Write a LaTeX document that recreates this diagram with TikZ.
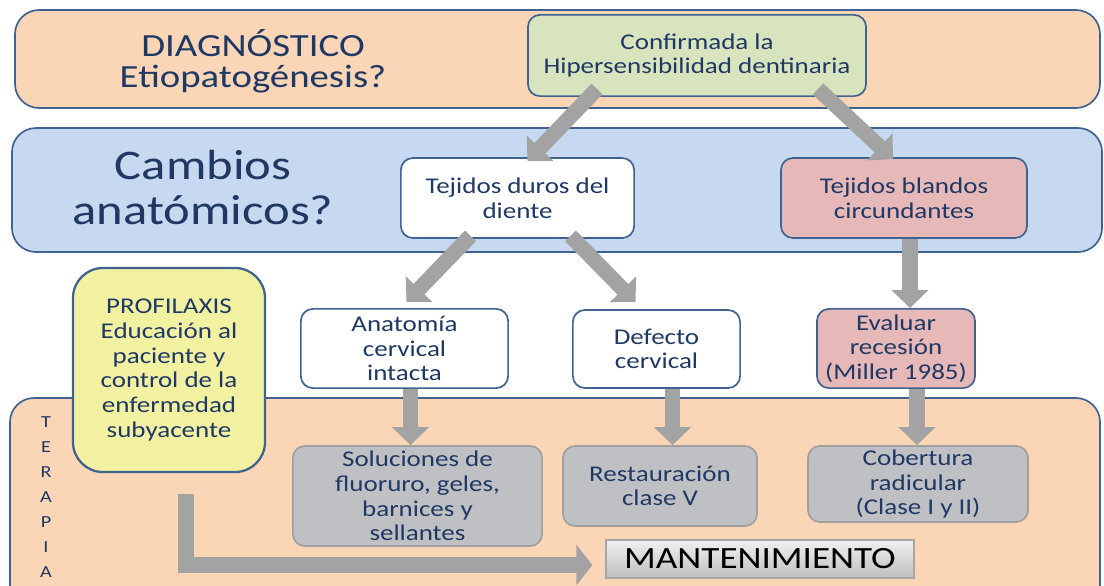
\documentclass[tikz,border=0pt]{standalone}
\usepackage{fontspec}
\setmainfont{Carlito}[FakeStretch=1.2]
\usetikzlibrary{arrows.meta,calc}
\definecolor{peach}{HTML}{FAD5B6}
\definecolor{bandblue}{HTML}{C6D9F0}
\definecolor{edge}{HTML}{3F6290}
\definecolor{navy}{HTML}{1F3864}
\definecolor{okgreen}{HTML}{D7E4BD}
\definecolor{rosy}{HTML}{E6B9B8}
\definecolor{lemon}{HTML}{F2F1A2}
\definecolor{boxgray}{HTML}{BFC0C3}
\definecolor{arrowgray}{HTML}{A3A3A3}
\tikzstyle{band}=[draw=edge, line width=1.2pt, rounded corners=0.6cm]
\tikzstyle{box}=[draw=edge, line width=1.2pt, rounded corners=0.3cm, align=center, text=navy, inner sep=1pt, font=\fontsize{16}{17.5}\selectfont]
\tikzstyle{graybox}=[box, draw=gray!75, fill=boxgray]
\tikzstyle{title}=[align=center, text=navy, inner sep=1pt]
\tikzstyle{bigArrow}=[draw=arrowgray, line width=0.38cm, -{Triangle[length=0.45cm,width=0.9cm]}]

\begin{document}
\begin{tikzpicture}[x=0.025cm, y=-0.025cm]
    \useasboundingbox (0,0) rectangle (1104,585);
    \clip (0,0) rectangle (1104,585);

    % bands
    \draw[band, fill=peach] (15,10) rectangle (1100,108);
    \draw[band, fill=bandblue] (12,128) rectangle (1102,252);
    \draw[band, fill=peach] (10,398) rectangle (1100,640);

    % titles
    \node[title, font=\fontsize{23}{22}\selectfont] (diagtitle) at (253,61) {DIAGNÓSTICO\\Etiopatogénesis?};
    \node[title, font=\fontsize{30}{32}\selectfont] (cambios) at (203,188) {Cambios\\anatómicos?};
    \node[title, font=\fontsize{12}{17.7}\selectfont] (terapia) at (46,497) {T\\E\\R\\A\\P\\I\\A};

    % nodes
    \node[box, fill=okgreen, minimum width=8.45cm, minimum height=2.03cm] (conf) at (697,55.5) {Confirmada la\\Hipersensibilidad dentinaria};
    \node[box, fill=white, minimum width=5.83cm, minimum height=2cm] (duros) at (517.5,198) {Tejidos duros del\\diente};
    \node[box, fill=rosy, minimum width=6.15cm, minimum height=2cm] (blandos) at (904,198) {Tejidos blandos\\circundantes};
    \node[box, fill=lemon, line width=1.6pt, rounded corners=0.75cm, minimum width=4.8cm, minimum height=5.1cm] (profi) at (169,370) {PROFILAXIS\\Educación al\\paciente y\\control de la\\enfermedad\\subyacente};
    \node[box, fill=white, minimum width=5.18cm, minimum height=1.98cm] (anat) at (404.5,348.5) {Anatomía\\cervical\\intacta};
    \node[box, fill=white, minimum width=4.18cm, minimum height=1.95cm] (defecto) at (656.5,349) {Defecto\\cervical};
    \node[box, fill=rosy, minimum width=3.95cm, minimum height=1.98cm] (evaluar) at (896,348.5) {Evaluar\\recesión\\(Miller 1985)};
    \node[graybox, minimum width=6.23cm, minimum height=2.5cm] (soluc) at (417.5,496) {Soluciones de\\fluoruro, geles,\\barnices y\\sellantes};
    \node[graybox, minimum width=4.85cm, minimum height=2cm] (restaur) at (660,486) {Restauración\\clase V};
    \node[graybox, minimum width=5.5cm, minimum height=1.9cm] (cobert) at (918,484) {Cobertura\\radicular\\(Clase I y II)};
    \node[draw=gray!70, line width=0.8pt, top color=gray!12, bottom color=gray!50, text=black, minimum width=7.7cm, minimum height=0.95cm, inner sep=1pt, font=\fontsize{22}{22}\selectfont] (mant) at (760,559) {MANTENIMIENTO};

    % arrows
    \draw[bigArrow] ($(conf.south)+(-100,-8)$) -- ($(duros.north)+(10,4)$);
    \draw[bigArrow] ($(conf.south)+(121,-8)$) -- ($(blandos.north)+(-11,2)$);
    \draw[bigArrow] ($(duros.south)+(-47,-3)$) -- ($(anat.north)+(2,-6)$);
    \draw[bigArrow] ($(duros.south)+(53,-3)$) -- ($(defecto.north)+(-21,-7)$);
    \draw[bigArrow] ($(blandos.south)+(6,0)$) -- ($(evaluar.north)+(14,0)$);
    \draw[bigArrow] ($(anat.south)+(6,0)$) -- ($(soluc.north)+(-7,0)$);
    \draw[bigArrow] ($(defecto.south)+(16,0)$) -- ($(restaur.north)+(12.5,0)$);
    \draw[bigArrow] ($(evaluar.south)+(21,0)$) -- ($(cobert.north)+(-1,0)$);
    \draw[draw=arrowgray, line width=0.42cm, -{Triangle[length=0.4cm,width=1cm]}] ($(profi.south)+(17,21)$) |- ($(mant.west)+(-13,6)$);
\end{tikzpicture}
\end{document}
